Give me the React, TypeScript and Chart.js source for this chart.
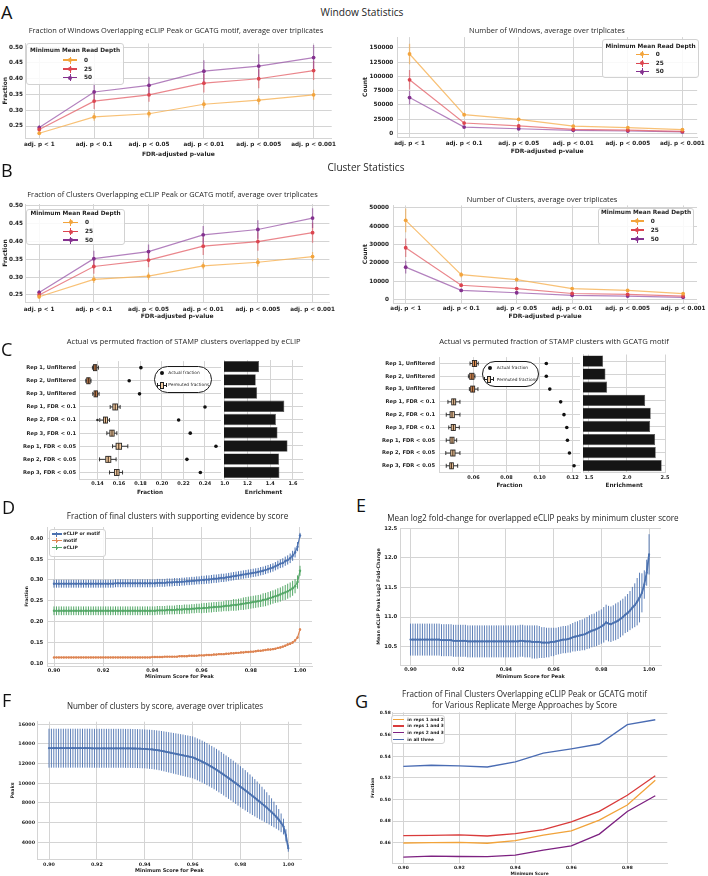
import React, { useEffect, useRef } from 'react';
import { Chart, registerables } from 'chart.js';

Chart.register(...registerables);

// ================= DATA =================
const pvalCategories = ['adj. p < 1', 'adj. p < 0.1', 'adj. p < 0.05', 'adj. p < 0.01', 'adj. p < 0.005', 'adj. p < 0.001'];
const depthLabels = ['0', '25', '50'];

// Panel A: windows
const windowFraction0 = [0.227, 0.279, 0.289, 0.319, 0.332, 0.349];
const windowFraction0Err = [0.005, 0.012, 0.012, 0.013, 0.014, 0.016];
const windowFraction25 = [0.239, 0.329, 0.349, 0.386, 0.400, 0.426];
const windowFraction25Err = [0.007, 0.025, 0.022, 0.030, 0.030, 0.030];
const windowFraction50 = [0.245, 0.358, 0.379, 0.424, 0.440, 0.467];
const windowFraction50Err = [0.008, 0.030, 0.027, 0.035, 0.038, 0.040];

const windowCount0 = [139000, 33000, 25000, 13000, 10500, 7000];
const windowCount0Err = [18000, 3000, 2500, 1500, 1200, 1000];
const windowCount25 = [94000, 18500, 13500, 7500, 6000, 4000];
const windowCount25Err = [17000, 2500, 2000, 1000, 800, 600];
const windowCount50 = [63000, 11500, 8500, 5800, 4600, 2900];
const windowCount50Err = [12000, 1500, 1200, 800, 600, 400];

// Panel B: clusters
const clusterFraction0 = [0.245, 0.294, 0.303, 0.332, 0.342, 0.358];
const clusterFraction0Err = [0.005, 0.010, 0.010, 0.010, 0.012, 0.013];
const clusterFraction25 = [0.250, 0.330, 0.348, 0.387, 0.400, 0.425];
const clusterFraction25Err = [0.006, 0.020, 0.020, 0.025, 0.026, 0.028];
const clusterFraction50 = [0.257, 0.352, 0.372, 0.419, 0.434, 0.466];
const clusterFraction50Err = [0.007, 0.022, 0.020, 0.025, 0.026, 0.028];

const clusterCount0 = [43200, 13500, 10800, 5900, 4900, 3100];
const clusterCount0Err = [6500, 1500, 1200, 800, 700, 500];
const clusterCount25 = [28200, 7700, 5900, 3200, 2700, 1800];
const clusterCount25Err = [5000, 1000, 800, 500, 400, 300];
const clusterCount50 = [17600, 4900, 3600, 2200, 1800, 1100];
const clusterCount50Err = [3500, 700, 500, 300, 300, 200];

// Panel C
const repRows = ['Rep 1, Unfiltered', 'Rep 2, Unfiltered', 'Rep 3, Unfiltered', 'Rep 1, FDR < 0.1', 'Rep 2, FDR < 0.1', 'Rep 3, FDR < 0.1', 'Rep 1, FDR < 0.05', 'Rep 2, FDR < 0.05', 'Rep 3, FDR < 0.05'];
const eclipActual = [0.1804, 0.1695, 0.1791, 0.2400, 0.2155, 0.2263, 0.2502, 0.2232, 0.2357];
const eclipPermMin = [0.1353, 0.1291, 0.1356, 0.1518, 0.1421, 0.1487, 0.1540, 0.1419, 0.1512];
const eclipPermQ1 = [0.1363, 0.1300, 0.1368, 0.1543, 0.1456, 0.1515, 0.1573, 0.1477, 0.1558];
const eclipPermMedian = [0.1378, 0.1315, 0.1383, 0.1565, 0.1474, 0.1535, 0.1598, 0.1500, 0.1580];
const eclipPermQ3 = [0.1393, 0.1331, 0.1400, 0.1586, 0.1493, 0.1555, 0.1624, 0.1524, 0.1601];
const eclipPermMax = [0.1409, 0.1340, 0.1415, 0.1611, 0.1512, 0.1580, 0.1682, 0.1573, 0.1633];
const eclipPermOutliers = [[], [], [], [], [0.1400], [], [], [], []];
const eclipEnrichment = [1.302, 1.273, 1.285, 1.524, 1.450, 1.464, 1.552, 1.478, 1.481];

const motifActual = [0.1041, 0.1041, 0.1062, 0.1128, 0.1148, 0.1165, 0.1169, 0.1181, 0.1209];
const motifPermMin = [0.0579, 0.0569, 0.0575, 0.0445, 0.0435, 0.0450, 0.0435, 0.0432, 0.0435];
const motifPermQ1 = [0.0593, 0.0577, 0.0583, 0.0468, 0.0458, 0.0465, 0.0458, 0.0462, 0.0456];
const motifPermMedian = [0.0606, 0.0590, 0.0595, 0.0480, 0.0470, 0.0478, 0.0470, 0.0475, 0.0466];
const motifPermQ3 = [0.0619, 0.0603, 0.0607, 0.0492, 0.0484, 0.0490, 0.0482, 0.0488, 0.0478];
const motifPermMax = [0.0629, 0.0609, 0.0627, 0.0518, 0.0518, 0.0514, 0.0498, 0.0518, 0.0504];
const motifPermOutliers = [[], [], [], [], [], [], [], [], []];
const motifEnrichment = [1.686, 1.717, 1.739, 2.239, 2.312, 2.304, 2.370, 2.378, 2.456];

// Panels D, E, F: score thresholds
const scoreThresholds = [
  0.900, 0.901, 0.902, 0.903, 0.904, 0.905, 0.906, 0.907, 0.908, 0.909,
  0.910, 0.911, 0.912, 0.913, 0.914, 0.915, 0.916, 0.917, 0.918, 0.919,
  0.920, 0.921, 0.922, 0.923, 0.924, 0.925, 0.926, 0.927, 0.928, 0.929,
  0.930, 0.931, 0.932, 0.933, 0.934, 0.935, 0.936, 0.937, 0.938, 0.939,
  0.940, 0.941, 0.942, 0.943, 0.944, 0.945, 0.946, 0.947, 0.948, 0.949,
  0.950, 0.951, 0.952, 0.953, 0.954, 0.955, 0.956, 0.957, 0.958, 0.959,
  0.960, 0.961, 0.962, 0.963, 0.964, 0.965, 0.966, 0.967, 0.968, 0.969,
  0.970, 0.971, 0.972, 0.973, 0.974, 0.975, 0.976, 0.977, 0.978, 0.979,
  0.980, 0.981, 0.982, 0.983, 0.984, 0.985, 0.986, 0.987, 0.988, 0.989,
  0.990, 0.991, 0.992, 0.993, 0.994, 0.995, 0.996, 0.997, 0.998, 0.999,
  1.000,
];

const evidenceEclipOrMotif = [
  0.291, 0.291, 0.291, 0.291, 0.291, 0.291, 0.291, 0.291, 0.291, 0.291,
  0.291, 0.291, 0.291, 0.291, 0.291, 0.291, 0.291, 0.291, 0.291, 0.291,
  0.291, 0.291, 0.291, 0.291, 0.291, 0.292, 0.292, 0.292, 0.292, 0.292,
  0.292, 0.292, 0.292, 0.292, 0.292, 0.292, 0.292, 0.292, 0.292, 0.292,
  0.292, 0.292, 0.293, 0.293, 0.293, 0.293, 0.294, 0.294, 0.294, 0.295,
  0.295, 0.295, 0.296, 0.296, 0.297, 0.297, 0.298, 0.298, 0.299, 0.299,
  0.300, 0.300, 0.301, 0.301, 0.302, 0.303, 0.303, 0.304, 0.305, 0.305,
  0.306, 0.307, 0.308, 0.309, 0.310, 0.311, 0.312, 0.313, 0.314, 0.315,
  0.316, 0.317, 0.318, 0.319, 0.321, 0.322, 0.324, 0.326, 0.328, 0.330,
  0.333, 0.336, 0.339, 0.341, 0.345, 0.348, 0.352, 0.358, 0.366, 0.380,
  0.407,
];
const evidenceEclipOrMotifErr = [
  0.0095, 0.0095, 0.0095, 0.0095, 0.0095, 0.0095, 0.0095, 0.0095, 0.0095, 0.0095,
  0.0095, 0.0095, 0.0095, 0.0095, 0.0095, 0.0095, 0.0095, 0.0095, 0.0095, 0.0095,
  0.0095, 0.0095, 0.0095, 0.0095, 0.0095, 0.0095, 0.0095, 0.0095, 0.0095, 0.0095,
  0.0095, 0.0095, 0.0095, 0.0095, 0.0095, 0.0095, 0.0095, 0.0095, 0.0095, 0.0095,
  0.0095, 0.0095, 0.0095, 0.0095, 0.0095, 0.0095, 0.0095, 0.0095, 0.0095, 0.0095,
  0.0095, 0.0095, 0.0095, 0.0095, 0.0095, 0.0095, 0.0095, 0.0095, 0.0095, 0.0095,
  0.010, 0.010, 0.010, 0.010, 0.010, 0.010, 0.010, 0.010, 0.010, 0.010,
  0.010, 0.010, 0.010, 0.010, 0.010, 0.010, 0.010, 0.010, 0.010, 0.010,
  0.010, 0.010, 0.010, 0.010, 0.010, 0.010, 0.010, 0.010, 0.010, 0.010,
  0.010, 0.0105, 0.0105, 0.011, 0.011, 0.011, 0.0115, 0.012, 0.012, 0.011,
  0.006,
];
const evidenceMotif = [
  0.114, 0.114, 0.114, 0.114, 0.114, 0.114, 0.114, 0.114, 0.114, 0.114,
  0.114, 0.114, 0.114, 0.114, 0.114, 0.114, 0.114, 0.114, 0.114, 0.114,
  0.114, 0.114, 0.114, 0.114, 0.114, 0.114, 0.114, 0.114, 0.114, 0.114,
  0.114, 0.114, 0.114, 0.114, 0.114, 0.114, 0.114, 0.114, 0.114, 0.114,
  0.115, 0.115, 0.115, 0.115, 0.115, 0.116, 0.116, 0.116, 0.116, 0.116,
  0.116, 0.117, 0.117, 0.117, 0.117, 0.118, 0.118, 0.118, 0.118, 0.119,
  0.119, 0.119, 0.120, 0.120, 0.120, 0.121, 0.121, 0.122, 0.122, 0.122,
  0.123, 0.123, 0.124, 0.124, 0.125, 0.125, 0.126, 0.126, 0.127, 0.127,
  0.128, 0.128, 0.129, 0.130, 0.130, 0.131, 0.132, 0.133, 0.133, 0.134,
  0.135, 0.137, 0.138, 0.140, 0.142, 0.145, 0.147, 0.150, 0.155, 0.162,
  0.181,
];
const evidenceMotifErr = [
  0.0015, 0.0015, 0.0015, 0.0015, 0.0015, 0.0015, 0.0015, 0.0015, 0.0015, 0.0015,
  0.0015, 0.0015, 0.0015, 0.0015, 0.0015, 0.0015, 0.0015, 0.0015, 0.0015, 0.0015,
  0.0015, 0.0015, 0.0015, 0.0015, 0.0015, 0.0015, 0.0015, 0.0015, 0.0015, 0.0015,
  0.0015, 0.0015, 0.0015, 0.0015, 0.0015, 0.0015, 0.0015, 0.0015, 0.0015, 0.0015,
  0.0015, 0.0015, 0.0015, 0.0015, 0.0015, 0.0015, 0.0015, 0.0015, 0.0015, 0.0015,
  0.0015, 0.0015, 0.0015, 0.0015, 0.0015, 0.0015, 0.0015, 0.0015, 0.0015, 0.0015,
  0.002, 0.002, 0.002, 0.002, 0.002, 0.002, 0.002, 0.002, 0.002, 0.002,
  0.002, 0.002, 0.002, 0.002, 0.002, 0.002, 0.002, 0.002, 0.002, 0.002,
  0.002, 0.002, 0.002, 0.002, 0.002, 0.002, 0.002, 0.002, 0.002, 0.002,
  0.002, 0.002, 0.0025, 0.0025, 0.0025, 0.003, 0.003, 0.003, 0.003, 0.003,
  0.003,
];
const evidenceEclip = [
  0.226, 0.226, 0.226, 0.226, 0.226, 0.226, 0.226, 0.226, 0.226, 0.226,
  0.226, 0.226, 0.226, 0.226, 0.226, 0.226, 0.226, 0.226, 0.226, 0.226,
  0.226, 0.226, 0.226, 0.226, 0.226, 0.226, 0.226, 0.226, 0.226, 0.226,
  0.226, 0.226, 0.226, 0.226, 0.226, 0.226, 0.226, 0.226, 0.226, 0.226,
  0.226, 0.226, 0.227, 0.227, 0.227, 0.227, 0.228, 0.228, 0.228, 0.228,
  0.229, 0.229, 0.229, 0.230, 0.230, 0.230, 0.231, 0.231, 0.232, 0.232,
  0.232, 0.233, 0.233, 0.234, 0.234, 0.235, 0.235, 0.236, 0.236, 0.237,
  0.238, 0.238, 0.239, 0.240, 0.240, 0.241, 0.242, 0.243, 0.244, 0.245,
  0.246, 0.247, 0.248, 0.249, 0.250, 0.252, 0.253, 0.255, 0.257, 0.259,
  0.261, 0.263, 0.265, 0.268, 0.270, 0.273, 0.276, 0.280, 0.285, 0.295,
  0.322,
];
const evidenceEclipErr = [
  0.0105, 0.0105, 0.0105, 0.0105, 0.0105, 0.0105, 0.0105, 0.0105, 0.0105, 0.0105,
  0.0105, 0.0105, 0.0105, 0.0105, 0.0105, 0.0105, 0.0105, 0.0105, 0.0105, 0.0105,
  0.0105, 0.0105, 0.0105, 0.0105, 0.0105, 0.0105, 0.0105, 0.0105, 0.0105, 0.0105,
  0.0105, 0.0105, 0.0105, 0.0105, 0.0105, 0.0105, 0.0105, 0.0105, 0.0105, 0.0105,
  0.0105, 0.0105, 0.0105, 0.0105, 0.0105, 0.0105, 0.0105, 0.0105, 0.0105, 0.0105,
  0.011, 0.011, 0.011, 0.011, 0.011, 0.011, 0.011, 0.011, 0.011, 0.011,
  0.012, 0.012, 0.012, 0.012, 0.012, 0.012, 0.012, 0.012, 0.012, 0.012,
  0.013, 0.013, 0.013, 0.014, 0.014, 0.014, 0.014, 0.015, 0.015, 0.015,
  0.015, 0.015, 0.015, 0.015, 0.015, 0.016, 0.016, 0.016, 0.016, 0.016,
  0.016, 0.017, 0.017, 0.017, 0.018, 0.018, 0.018, 0.018, 0.017, 0.016,
  0.012,
];

const log2fcMean = [
  10.62, 10.62, 10.62, 10.62, 10.62, 10.62, 10.62, 10.62, 10.62, 10.62,
  10.62, 10.62, 10.62, 10.61, 10.61, 10.61, 10.61, 10.61, 10.60, 10.60,
  10.60, 10.60, 10.60, 10.60, 10.59, 10.59, 10.59, 10.59, 10.59, 10.59,
  10.59, 10.59, 10.59, 10.59, 10.59, 10.59, 10.59, 10.59, 10.59, 10.59,
  10.59, 10.59, 10.59, 10.59, 10.59, 10.59, 10.60, 10.60, 10.59, 10.59,
  10.59, 10.58, 10.58, 10.58, 10.58, 10.57, 10.57, 10.57, 10.57, 10.58,
  10.58, 10.59, 10.60, 10.61, 10.62, 10.62, 10.63, 10.64, 10.66, 10.67,
  10.68, 10.69, 10.70, 10.71, 10.73, 10.75, 10.77, 10.78, 10.80, 10.82,
  10.84, 10.87, 10.91, 10.89, 10.88, 10.90, 10.92, 10.94, 10.97, 11.00,
  11.04, 11.07, 11.11, 11.16, 11.20, 11.26, 11.33, 11.41, 11.55, 11.75,
  12.06,
];
const log2fcErr = [
  0.27, 0.27, 0.27, 0.27, 0.27, 0.27, 0.27, 0.27, 0.27, 0.27,
  0.27, 0.27, 0.27, 0.27, 0.27, 0.27, 0.27, 0.27, 0.27, 0.27,
  0.27, 0.27, 0.27, 0.27, 0.27, 0.27, 0.27, 0.27, 0.27, 0.27,
  0.27, 0.27, 0.27, 0.27, 0.27, 0.27, 0.27, 0.27, 0.27, 0.27,
  0.27, 0.27, 0.27, 0.27, 0.27, 0.27, 0.27, 0.27, 0.27, 0.27,
  0.27, 0.28, 0.28, 0.28, 0.27, 0.26, 0.26, 0.25, 0.25, 0.24,
  0.24, 0.23, 0.23, 0.23, 0.23, 0.23, 0.23, 0.24, 0.24, 0.25,
  0.25, 0.26, 0.26, 0.27, 0.27, 0.28, 0.28, 0.28, 0.29, 0.29,
  0.29, 0.30, 0.30, 0.30, 0.30, 0.30, 0.31, 0.31, 0.31, 0.31,
  0.31, 0.32, 0.33, 0.35, 0.37, 0.40, 0.42, 0.33, 0.24, 0.22,
  0.34,
];

const clustersByScore = [
  13570, 13570, 13570, 13570, 13570, 13570, 13570, 13570, 13570, 13570,
  13570, 13570, 13570, 13570, 13570, 13570, 13570, 13570, 13560, 13560,
  13560, 13560, 13560, 13560, 13560, 13560, 13560, 13560, 13560, 13560,
  13560, 13560, 13550, 13550, 13550, 13540, 13540, 13530, 13520, 13510,
  13500, 13480, 13460, 13440, 13410, 13380, 13340, 13300, 13250, 13200,
  13150, 13100, 13050, 13000, 12950, 12900, 12850, 12790, 12740, 12690,
  12640, 12540, 12430, 12320, 12200, 12080, 11950, 11810, 11670, 11520,
  11370, 11210, 11050, 10880, 10710, 10540, 10370, 10190, 10010, 9830,
  9650, 9470, 9290, 9100, 8910, 8720, 8530, 8330, 8130, 7930,
  7730, 7520, 7300, 7070, 6830, 6580, 6300, 5980, 5600, 4700,
  3390,
];
const clustersByScoreErr = [
  1980, 1980, 1980, 1980, 1980, 1980, 1980, 1980, 1980, 1980,
  1980, 1980, 1980, 1980, 1980, 1980, 1980, 1980, 1980, 1980,
  1980, 1980, 1980, 1980, 1980, 1980, 1980, 1980, 1980, 1980,
  1980, 1980, 1980, 1980, 1980, 1980, 1980, 1980, 1980, 1980,
  1980, 1980, 1990, 1990, 2000, 2000, 2010, 2020, 2030, 2040,
  2050, 2060, 2070, 2080, 2090, 2100, 2110, 2110, 2120, 2120,
  2130, 2130, 2130, 2140, 2140, 2140, 2140, 2130, 2130, 2130,
  2130, 2130, 2130, 2120, 2120, 2120, 2110, 2110, 2100, 2100,
  2090, 2070, 2050, 2020, 1990, 1950, 1900, 1850, 1790, 1720,
  1650, 1570, 1490, 1400, 1300, 1200, 1080, 950, 800, 620,
  350,
];

// Panel G
const mergeScores = [0.90, 0.91, 0.92, 0.93, 0.94, 0.95, 0.96, 0.97, 0.98, 0.99];
const mergeReps12 = [0.4597, 0.4600, 0.4603, 0.4595, 0.4620, 0.4670, 0.4710, 0.4810, 0.4950, 0.5180];
const mergeReps13 = [0.4665, 0.4667, 0.4672, 0.4662, 0.4685, 0.4722, 0.4793, 0.4890, 0.5040, 0.5220];
const mergeReps23 = [0.4467, 0.4475, 0.4472, 0.4470, 0.4485, 0.4532, 0.4570, 0.4680, 0.4890, 0.5035];
const mergeAllThree = [0.5308, 0.5318, 0.5312, 0.5302, 0.5350, 0.5430, 0.5470, 0.5515, 0.5695, 0.5740];
const mergeLabels = ['in reps 1 and 2', 'in reps 1 and 3', 'in reps 2 and 3', 'in all three'];

// tick label values
const fractionTicksAB = [0.25, 0.30, 0.35, 0.40, 0.45, 0.50];
const windowCountTicks = [0, 25000, 50000, 75000, 100000, 125000, 150000];
const clusterCountTicks = [0, 10000, 20000, 30000, 40000, 50000];
const eclipFractionTicks = [0.14, 0.16, 0.18, 0.20, 0.22, 0.24];
const eclipEnrichTicks = [1.0, 1.2, 1.4, 1.6];
const motifFractionTicks = [0.06, 0.08, 0.10, 0.12];
const motifEnrichTicks = [1.5, 2.0, 2.5];
const scoreTicks = [0.90, 0.92, 0.94, 0.96, 0.98, 1.00];
const evidenceTicks = [0.10, 0.15, 0.20, 0.25, 0.30, 0.35, 0.40];
const log2fcTicks = [10.5, 11.0, 11.5, 12.0, 12.5];
const peakTicks = [4000, 6000, 8000, 10000, 12000, 14000, 16000];
const mergeScoreTicks = [0.90, 0.92, 0.94, 0.96, 0.98];
const mergeFractionTicks = [0.46, 0.48, 0.50, 0.52, 0.54, 0.56, 0.58];

// ================= STYLE =================
const GRID = '#d4d4d4';
const TICK_FAMILY = "'DejaVu Sans', 'Liberation Sans', sans-serif";
const TITLE_FAMILY = "'Open Sans', 'Noto Sans', sans-serif";
const depthLineColors = ['rgba(246,176,80,0.78)', 'rgba(226,88,96,0.72)', 'rgba(150,80,165,0.72)'];
const depthMarkColors = ['#f3a43c', '#dc4550', '#84318f'];
const depthErrColors = ['rgba(243,164,60,0.6)', 'rgba(220,69,80,0.55)', 'rgba(132,49,143,0.55)'];
const evidenceColors = ['#4c72b0', '#dd8452', '#55a868'];
const mergeColors = ['#f1a33a', '#d93b3b', '#7d2181', '#4a6cb3'];
const BLUE = '#4c72b0';

type Box = { l: number; t: number; r: number; b: number };

interface AxisSpec {
  kind?: 'linear' | 'category';
  min?: number;
  max?: number;
  ticks?: number[];
  fmt?: (v: number) => string;
  labels?: string[];
  size: number;
  pad: number;
  title?: string;
  titleSize?: number;
  showTicks?: boolean;
}

function axis(which: 'x' | 'y', sp: AxisSpec, box: Box, area: Box): any {
  const o: any = {
    type: sp.kind || 'linear',
    position: which === 'x' ? 'bottom' : 'left',
    grid: { color: GRID, lineWidth: 1, drawTicks: false, tickLength: 0, offset: false },
    border: { display: true, color: GRID, width: 1 },
    ticks: {
      display: sp.showTicks !== false,
      color: '#1e1e1e',
      padding: sp.pad,
      autoSkip: false,
      maxRotation: 0,
      minRotation: 0,
      font: { family: TICK_FAMILY, size: sp.size, weight: 'bold', lineHeight: 1.2 },
    },
    title: sp.title
      ? { display: true, text: sp.title, color: '#1e1e1e', padding: 0, font: { family: TICK_FAMILY, size: sp.titleSize || sp.size, weight: 'bold', lineHeight: 1.2 } }
      : { display: false },
    afterFit: (s: any) => {
      if (which === 'x') s.height = box.b - area.b;
      else s.width = area.l - box.l;
    },
  };
  if (sp.min !== undefined) o.min = sp.min;
  if (sp.max !== undefined) o.max = sp.max;
  if (sp.kind === 'category') {
    o.labels = sp.labels;
    o.offset = true;
  }
  if (sp.ticks) {
    const tv = sp.ticks;
    o.afterBuildTicks = (s: any) => {
      s.ticks = tv.map((v) => ({ value: v }));
    };
  }
  if (sp.fmt) {
    const f = sp.fmt;
    o.ticks.callback = (v: any) => f(Number(v));
  }
  return o;
}

function makeConfig(type: string, data: any, box: Box, area: Box, xs: AxisSpec, ys: AxisSpec, plugins: any[] = [], indexAxis: 'x' | 'y' = 'x'): any {
  return {
    type,
    data,
    options: {
      responsive: false,
      animation: false,
      devicePixelRatio: 1,
      events: [],
      indexAxis,
      layout: { autoPadding: false, padding: { left: 0, top: area.t - box.t, right: box.r - area.r, bottom: 0 } },
      plugins: { legend: { display: false }, tooltip: { enabled: false }, title: { display: false } },
      scales: { x: axis('x', xs, box, area), y: axis('y', ys, box, area) },
    },
    plugins,
  };
}

const errorBarPlugin = {
  id: 'errorBars',
  beforeDatasetsDraw(chart: any) {
    const { ctx, chartArea } = chart;
    const xs = chart.scales.x;
    const ys = chart.scales.y;
    ctx.save();
    ctx.beginPath();
    ctx.rect(chartArea.left, chartArea.top, chartArea.right - chartArea.left, chartArea.bottom - chartArea.top);
    ctx.clip();
    chart.data.datasets.forEach((ds: any) => {
      if (!ds.err) return;
      ctx.strokeStyle = ds.errColor || ds.borderColor;
      ctx.lineWidth = ds.errWidth || 1;
      ds.data.forEach((p: any, i: number) => {
        const e = ds.err[i];
        const x = xs.getPixelForValue(p.x);
        ctx.beginPath();
        ctx.moveTo(x, ys.getPixelForValue(p.y - e));
        ctx.lineTo(x, ys.getPixelForValue(p.y + e));
        ctx.stroke();
      });
    });
    ctx.restore();
  },
};

function makeBoxPlugin(id: string, st: { min: number[]; q1: number[]; med: number[]; q3: number[]; max: number[]; fliers: number[][]; fill: string[] }) {
  return {
    id,
    beforeDatasetsDraw(chart: any) {
      const { ctx } = chart;
      const xs = chart.scales.x;
      const ys = chart.scales.y;
      const px = (v: number) => xs.getPixelForValue(v);
      const seg = (x0: number, y0: number, x1: number, y1: number) => {
        ctx.beginPath();
        ctx.moveTo(x0, y0);
        ctx.lineTo(x1, y1);
        ctx.stroke();
      };
      ctx.save();
      for (let i = 0; i < st.med.length; i++) {
        const y = ys.getPixelForValue(i);
        const hb = 3;
        const hc = 2;
        ctx.strokeStyle = '#262626';
        ctx.lineWidth = 0.9;
        seg(px(st.min[i]), y, px(st.q1[i]), y);
        seg(px(st.q3[i]), y, px(st.max[i]), y);
        seg(px(st.min[i]), y - hc, px(st.min[i]), y + hc);
        seg(px(st.max[i]), y - hc, px(st.max[i]), y + hc);
        ctx.fillStyle = st.fill[i];
        const x0 = px(st.q1[i]);
        const x1 = px(st.q3[i]);
        ctx.fillRect(x0, y - hb, x1 - x0, 2 * hb);
        ctx.strokeRect(x0, y - hb, x1 - x0, 2 * hb);
        ctx.strokeStyle = '#3b2412';
        ctx.lineWidth = 1;
        seg(px(st.med[i]), y - hb, px(st.med[i]), y + hb);
        ctx.fillStyle = '#262626';
        st.fliers[i].forEach((f) => {
          ctx.beginPath();
          ctx.arc(px(f), y, 1.3, 0, Math.PI * 2);
          ctx.fill();
        });
      }
      ctx.restore();
    },
  };
}

// ================= DATASET BUILDERS =================
const pvalIndex = pvalCategories.map((_, i) => i);
const catFmt = (v: number) => pvalCategories[Math.round(v)] ?? '';
const f2 = (v: number) => v.toFixed(2);
const f1 = (v: number) => v.toFixed(1);
const fInt = (v: number) => String(Math.round(v));

function depthDatasets(vals: number[][], errs: number[][]) {
  return vals.map((v, k) => ({
    label: depthLabels[k],
    data: pvalIndex.map((x, i) => ({ x, y: v[i] })),
    err: errs[k],
    errColor: depthErrColors[k],
    errWidth: 1.3,
    borderColor: depthLineColors[k],
    backgroundColor: depthLineColors[k],
    borderWidth: 1.2,
    pointRadius: 1.9,
    pointBackgroundColor: depthMarkColors[k],
    pointBorderWidth: 0,
    tension: 0,
    fill: false,
  }));
}

function scoreDataset(label: string, xs: number[], ys: number[], err: number[] | null, color: string, errColor: string, lw: number, pr: number) {
  return {
    label,
    data: xs.map((x, i) => ({ x, y: ys[i] })),
    err,
    errColor,
    errWidth: 1,
    borderColor: color,
    backgroundColor: color,
    borderWidth: lw,
    pointRadius: pr,
    pointBackgroundColor: color,
    pointBorderWidth: 0,
    tension: 0,
    fill: false,
  };
}

interface PlotSpec { box: Box; config: any }

function buildPlots(): PlotSpec[] {
  const plots: PlotSpec[] = [];
  const add = (box: Box, config: any) => plots.push({ box, config });

  // A left
  {
    const box = { l: 2, t: 38, r: 340, b: 158 };
    const area = { l: 25, t: 43, r: 333, b: 138 };
    add(box, makeConfig('line', { datasets: depthDatasets([windowFraction0, windowFraction25, windowFraction50], [windowFraction0Err, windowFraction25Err, windowFraction50Err]) }, box, area,
      { min: -0.26, max: 5.33, ticks: pvalIndex, fmt: catFmt, size: 5.7, pad: 3.6, title: 'FDR-adjusted p-value', titleSize: 6 },
      { min: 0.212, max: 0.512, ticks: fractionTicksAB, fmt: f2, size: 5.7, pad: 2, title: 'Fraction', titleSize: 6 }, [errorBarPlugin]));
  }
  // A right
  {
    const box = { l: 362, t: 30, r: 708, b: 155 };
    const area = { l: 397, t: 36, r: 702, b: 137 };
    add(box, makeConfig('line', { datasets: depthDatasets([windowCount0, windowCount25, windowCount50], [windowCount0Err, windowCount25Err, windowCount50Err]) }, box, area,
      { min: -0.23, max: 5.27, ticks: pvalIndex, fmt: catFmt, size: 5.7, pad: 2.9, title: 'FDR-adjusted p-value', titleSize: 6 },
      { min: -5900, max: 168500, ticks: windowCountTicks, fmt: fInt, size: 5.7, pad: 3.7, title: 'Count', titleSize: 6 }, [errorBarPlugin]));
  }
  // B left
  {
    const box = { l: 2, t: 198, r: 340, b: 320 };
    const area = { l: 25, t: 204, r: 332, b: 302 };
    add(box, makeConfig('line', { datasets: depthDatasets([clusterFraction0, clusterFraction25, clusterFraction50], [clusterFraction0Err, clusterFraction25Err, clusterFraction50Err]) }, box, area,
      { min: -0.259, max: 5.308, ticks: pvalIndex, fmt: catFmt, size: 5.7, pad: 4.6, title: 'FDR-adjusted p-value', titleSize: 6 },
      { min: 0.2303, max: 0.5056, ticks: fractionTicksAB, fmt: f2, size: 5.7, pad: 2, title: 'Fraction', titleSize: 6 }, [errorBarPlugin]));
  }
  // B right
  {
    const box = { l: 362, t: 198, r: 708, b: 320 };
    const area = { l: 393, t: 204, r: 697, b: 303 };
    add(box, makeConfig('line', { datasets: depthDatasets([clusterCount0, clusterCount25, clusterCount50], [clusterCount0Err, clusterCount25Err, clusterCount50Err]) }, box, area,
      { min: -0.229, max: 5.25, ticks: pvalIndex, fmt: catFmt, size: 5.7, pad: 1.9, title: 'FDR-adjusted p-value', titleSize: 6 },
      { min: -1994, max: 51347, ticks: clusterCountTicks, fmt: fInt, size: 5.7, pad: 4, title: 'Count', titleSize: 6 }, [errorBarPlugin]));
  }
  // C left: boxes
  {
    const box = { l: 20, t: 355, r: 224, b: 496 };
    const area = { l: 79, t: 360, r: 221, b: 479 };
    const fills = repRows.map((_, i) => (i < 3 ? '#d98d58' : '#f3cda3'));
    add(box, makeConfig('scatter', {
      labels: repRows,
      datasets: [{ label: 'Actual fraction', data: repRows.map((r, i) => ({ x: eclipActual[i], y: r })), pointRadius: 1.8, pointBackgroundColor: '#111', pointBorderWidth: 0, showLine: false }],
    }, box, area,
      { min: 0.1228, max: 0.2549, ticks: eclipFractionTicks, fmt: f2, size: 5, pad: 2, title: 'Fraction', titleSize: 5.7 },
      { kind: 'category', labels: repRows, size: 5.2, pad: 3 },
      [makeBoxPlugin('eclipBoxes', { min: eclipPermMin, q1: eclipPermQ1, med: eclipPermMedian, q3: eclipPermQ3, max: eclipPermMax, fliers: eclipPermOutliers, fill: fills })]));
  }
  // C left: enrichment
  {
    const box = { l: 214, t: 355, r: 310, b: 496 };
    const area = { l: 224, t: 360, r: 303, b: 479 };
    add(box, makeConfig('bar', {
      labels: repRows,
      datasets: [{ label: 'Enrichment', data: eclipEnrichment, backgroundColor: '#151515', borderColor: '#4a4a4a', borderWidth: 0.6, barPercentage: 0.86, categoryPercentage: 1 }],
    }, box, area,
      { min: 0.994, max: 1.688, ticks: eclipEnrichTicks, fmt: f1, size: 5, pad: 2, title: 'Enrichment', titleSize: 5.8 },
      { kind: 'category', labels: repRows, size: 5, pad: 0, showTicks: false }, [], 'y'));
  }
  // C right: boxes
  {
    const box = { l: 378, t: 350, r: 583, b: 489 };
    const area = { l: 439, t: 354.5, r: 580, b: 472.2 };
    const fills = repRows.map((_, i) => (i < 3 ? '#df8f55' : '#f3cda3'));
    add(box, makeConfig('scatter', {
      labels: repRows,
      datasets: [{ label: 'Actual fraction', data: repRows.map((r, i) => ({ x: motifActual[i], y: r })), pointRadius: 1.8, pointBackgroundColor: '#111', pointBorderWidth: 0, showLine: false }],
    }, box, area,
      { min: 0.0391, max: 0.1245, ticks: motifFractionTicks, fmt: f2, size: 5, pad: 2.5, title: 'Fraction', titleSize: 5.7 },
      { kind: 'category', labels: repRows, size: 5.2, pad: 4 },
      [makeBoxPlugin('motifBoxes', { min: motifPermMin, q1: motifPermQ1, med: motifPermMedian, q3: motifPermQ3, max: motifPermMax, fliers: motifPermOutliers, fill: fills })]));
  }
  // C right: enrichment
  {
    const box = { l: 573, t: 350, r: 672, b: 489 };
    const area = { l: 583, t: 354.5, r: 666, b: 472.2 };
    add(box, makeConfig('bar', {
      labels: repRows,
      datasets: [{ label: 'Enrichment', data: motifEnrichment, backgroundColor: '#151515', borderColor: '#4a4a4a', borderWidth: 0.6, barPercentage: 0.86, categoryPercentage: 1 }],
    }, box, area,
      { min: 1.4218, max: 2.504, ticks: motifEnrichTicks, fmt: f1, size: 5, pad: 2.5, title: 'Enrichment', titleSize: 5.8 },
      { kind: 'category', labels: repRows, size: 5, pad: 0, showTicks: false }, [], 'y'));
  }
  // D
  {
    const box = { l: 24, t: 520, r: 316, b: 680 };
    const area = { l: 47, t: 527, r: 312, b: 666 };
    add(box, makeConfig('line', {
      datasets: [
        scoreDataset('eCLIP or motif', scoreThresholds, evidenceEclipOrMotif, evidenceEclipOrMotifErr, evidenceColors[0], evidenceColors[0], 1.2, 1.2),
        scoreDataset('motif', scoreThresholds, evidenceMotif, evidenceMotifErr, evidenceColors[1], evidenceColors[1], 1.2, 1.2),
        scoreDataset('eCLIP', scoreThresholds, evidenceEclip, evidenceEclipErr, evidenceColors[2], evidenceColors[2], 1.2, 1.2),
      ],
    }, box, area,
      { min: 0.89715, max: 1.00488, ticks: scoreTicks, fmt: f2, size: 5, pad: 2, title: 'Minimum Score for Peak', titleSize: 5 },
      { min: 0.0935, max: 0.4271, ticks: evidenceTicks, fmt: f2, size: 5.3, pad: 3.7, title: 'Fraction', titleSize: 4.5 }, [errorBarPlugin]));
  }
  // E
  {
    const box = { l: 376, t: 522, r: 666, b: 680 };
    const area = { l: 400, t: 528, r: 661, b: 665 };
    add(box, makeConfig('line', {
      datasets: [scoreDataset('log2FC', scoreThresholds, log2fcMean, log2fcErr, BLUE, 'rgba(76,114,176,0.9)', 1.8, 1.1)],
    }, box, area,
      { min: 0.8956, max: 1.005, ticks: scoreTicks, fmt: f2, size: 5, pad: 2, title: 'Minimum Score for Peak', titleSize: 5 },
      { min: 10.191, max: 12.505, ticks: log2fcTicks, fmt: f1, size: 5.3, pad: 2.7, title: 'Mean eCLIP Peak Log2 Fold-Change', titleSize: 4.8 }, [errorBarPlugin]));
  }
  // F
  {
    const box = { l: 10, t: 716, r: 306, b: 874 };
    const area = { l: 37.3, t: 721.7, r: 301.7, b: 859.3 };
    add(box, makeConfig('line', {
      datasets: [scoreDataset('Peaks', scoreThresholds, clustersByScore, clustersByScoreErr, BLUE, 'rgba(76,114,176,0.9)', 1.8, 1.1)],
    }, box, area,
      { min: 0.89511, max: 1.0056, ticks: scoreTicks, fmt: f2, size: 4.8, pad: 2.8, title: 'Minimum Score for Peak', titleSize: 5 },
      { min: 2271, max: 16264, ticks: peakTicks, fmt: fInt, size: 4.8, pad: 2.3, title: 'Peaks', titleSize: 4.8 }, [errorBarPlugin]));
  }
  // G
  {
    const box = { l: 370, t: 708, r: 672, b: 876 };
    const area = { l: 392, t: 712.3, r: 667.3, b: 863.3 };
    const series = [mergeReps12, mergeReps13, mergeReps23, mergeAllThree];
    add(box, makeConfig('line', {
      datasets: series.map((s, k) => scoreDataset(mergeLabels[k], mergeScores, s, null, mergeColors[k], mergeColors[k], 1.3, 0)),
    }, box, area,
      { min: 0.89596, max: 0.99429, ticks: mergeScoreTicks, fmt: f2, size: 4.4, pad: 2.1, title: 'Minimum Score', titleSize: 4.4 },
      { min: 0.4409, max: 0.5809, ticks: mergeFractionTicks, fmt: f2, size: 4.4, pad: 1.3, title: 'Fraction', titleSize: 4.4 }));
  }
  return plots;
}

// ================= TEXT HELPERS =================
let measureCtx: CanvasRenderingContext2D | null = null;
function fitFont(text: string, family: string, weight: string, width: number): number {
  if (!measureCtx) measureCtx = document.createElement('canvas').getContext('2d');
  measureCtx!.font = `${weight} 20px ${family}`;
  const w = measureCtx!.measureText(text).width;
  return (20 * width) / w;
}

function CText(props: { text: string; cx: number; cy: number; w?: number; size?: number; family?: string; weight?: string; color?: string }) {
  const family = props.family || TITLE_FAMILY;
  const weight = props.weight || 'normal';
  const fs = props.size ?? fitFont(props.text, family, weight, props.w || 100);
  return (
    <div style={{ position: 'absolute', left: props.cx - 400, width: 800, top: props.cy - fs * 0.6, height: fs * 1.2, lineHeight: `${fs * 1.2}px`, fontSize: `${fs}px`, fontFamily: family, fontWeight: weight as any, textAlign: 'center', whiteSpace: 'nowrap', color: props.color || '#262626' }}>
      {props.text}
    </div>
  );
}

function LText(props: { text: string; x: number; cy: number; size: number; family?: string; weight?: string }) {
  const fs = props.size;
  return (
    <div style={{ position: 'absolute', left: props.x, top: props.cy - fs * 0.6, height: fs * 1.2, lineHeight: `${fs * 1.2}px`, fontSize: `${fs}px`, fontFamily: props.family || TICK_FAMILY, fontWeight: (props.weight || 'bold') as any, whiteSpace: 'nowrap', color: '#1e1e1e' }}>
      {props.text}
    </div>
  );
}

function Rect(props: { x: number; y: number; w: number; h: number; bg: string; radius?: number; border?: string }) {
  return <div style={{ position: 'absolute', left: props.x, top: props.y, width: props.w, height: props.h, background: props.bg, borderRadius: props.radius, border: props.border, boxSizing: 'border-box' }} />;
}

function FrameBox(props: { box: Box; radius?: number; border?: string }) {
  const { box } = props;
  return <div style={{ position: 'absolute', left: box.l, top: box.t, width: box.r - box.l, height: box.b - box.t, border: props.border || '1px solid #d2d2d2', borderRadius: props.radius ?? 3, background: 'rgba(255,255,255,0.85)', boxSizing: 'border-box' }} />;
}

function SeriesLegend(props: { box: Box; title?: string; titleY?: number; ys: number[]; labels: string[]; colors: string[]; markL: number; markR: number; textX: number; fs: number; kind: 'pointErr' | 'line'; dotR?: number; errH?: number }) {
  const { box, ys, labels, colors, markL, markR, textX, fs, kind } = props;
  const dotR = props.dotR ?? 2;
  const errH = props.errH ?? 3.5;
  return (
    <>
      <FrameBox box={box} />
      {props.title ? <CText text={props.title} cx={(box.l + box.r) / 2} cy={props.titleY!} size={fs} family={TICK_FAMILY} weight="bold" color="#1e1e1e" /> : null}
      {ys.map((y, i) => (
        <React.Fragment key={i}>
          <Rect x={markL} y={y - 0.65} w={markR - markL} h={1.3} bg={colors[i]} />
          {kind === 'pointErr' ? (
            <>
              <Rect x={(markL + markR) / 2 - 0.5} y={y - errH} w={1} h={errH * 2} bg={colors[i]} />
              <Rect x={(markL + markR) / 2 - dotR} y={y - dotR} w={dotR * 2} h={dotR * 2} bg={colors[i]} radius={dotR} />
            </>
          ) : null}
          <LText text={labels[i]} x={textX} cy={y} size={fs} />
        </React.Fragment>
      ))}
    </>
  );
}

function PermLegend(props: { box: Box; dot: [number, number]; boxIcon: [number, number]; textX: number; fs: number }) {
  const { box, dot, boxIcon, textX, fs } = props;
  const [bx, by] = boxIcon;
  return (
    <>
      <FrameBox box={box} radius={(box.b - box.t) / 2} border="1px solid #1a1a1a" />
      <Rect x={dot[0] - 2.2} y={dot[1] - 2.2} w={4.4} h={4.4} bg="#111" radius={2.2} />
      <LText text="Actual fraction" x={textX} cy={dot[1]} size={fs} weight="normal" />
      <Rect x={bx - 5} y={by - 0.4} w={10} h={0.8} bg="#222" />
      <Rect x={bx - 5} y={by - 2} w={0.8} h={4} bg="#222" />
      <Rect x={bx + 4.2} y={by - 2} w={0.8} h={4} bg="#222" />
      <Rect x={bx - 2.2} y={by - 3.5} w={4.4} h={7} bg="#f3cda3" border="0.8px solid #222" />
      <LText text="Permuted fractions" x={textX} cy={by} size={fs} weight="normal" />
    </>
  );
}

// ================= APP =================
export default function App() {
  const plotsRef = useRef<PlotSpec[] | null>(null);
  if (!plotsRef.current) plotsRef.current = buildPlots();
  const plots = plotsRef.current;
  const canvasRefs = useRef<(HTMLCanvasElement | null)[]>([]);

  useEffect(() => {
    const charts: Chart[] = [];
    plots.forEach((p, i) => {
      const c = canvasRefs.current[i];
      if (c) charts.push(new Chart(c, p.config));
    });
    return () => charts.forEach((c) => c.destroy());
  }, []);

  const panelLetter = (t: string, x: number, cy: number) => (
    <div style={{ position: 'absolute', left: x, top: cy - 10, height: 20, lineHeight: '20px', fontSize: 18, fontFamily: TITLE_FAMILY, color: '#111' }}>{t}</div>
  );

  return (
    <div style={{ position: 'absolute', left: 0, top: 0, width: 708, height: 876, background: '#fff', overflow: 'hidden' }}>
      {plots.map((p, i) => (
        <canvas
          key={i}
          ref={(el) => { canvasRefs.current[i] = el; }}
          width={p.box.r - p.box.l}
          height={p.box.b - p.box.t}
          style={{ position: 'absolute', left: p.box.l, top: p.box.t, width: p.box.r - p.box.l, height: p.box.b - p.box.t }}
        />
      ))}

      {panelLetter('A', 1, 12)}
      {panelLetter('B', 1, 170)}
      {panelLetter('C', 1, 349)}
      {panelLetter('D', 2, 507)}
      {panelLetter('E', 356, 505)}
      {panelLetter('F', 2, 700)}
      {panelLetter('G', 355, 701)}

      <CText text="Window Statistics" cx={362} cy={11.7} w={83} />
      <CText text="Cluster Statistics" cx={366} cy={167.5} w={77} />

      <CText text="Fraction of Windows Overlapping eCLIP Peak or GCATG motif, average over triplicates" cx={176} cy={30} w={295} />
      <CText text="Number of Windows, average over triplicates" cx={547} cy={30} w={156} />
      <CText text="Fraction of Clusters Overlapping eCLIP Peak or GCATG motif, average over triplicates" cx={172.5} cy={194} w={291} />
      <CText text="Number of Clusters, average over triplicates" cx={542} cy={199} w={151} />
      <CText text="Actual vs permuted fraction of STAMP clusters overlapped by eCLIP" cx={183.7} cy={341.7} w={234} />
      <CText text="Actual vs permuted fraction of STAMP clusters with GCATG motif" cx={554} cy={341.7} w={230} />
      <CText text="Fraction of final clusters with supporting evidence by score" cx={177.5} cy={515.7} w={221.6} />
      <CText text="Mean log2 fold-change for overlapped eCLIP peaks by minimum cluster score" cx={533} cy={518.3} w={292} />
      <CText text="Number of clusters by score, average over triplicates" cx={165} cy={706} w={196.6} />
      <CText text="Fraction of Final Clusters Overlapping eCLIP Peak or GCATG motif" cx={524.5} cy={694.3} w={245} />
      <CText text="for Various Replicate Merge Approaches by Score" cx={524.5} cy={705} w={185} />

      <SeriesLegend box={{ l: 26, t: 43, r: 124, b: 85 }} title="Minimum Mean Read Depth" titleY={50} ys={[60, 69, 77.7]} labels={depthLabels} colors={depthMarkColors} markL={63} markR={77} textX={84} fs={5.8} kind="pointErr" />
      <SeriesLegend box={{ l: 602, t: 39.3, r: 699, b: 78.3 }} title="Minimum Mean Read Depth" titleY={46} ys={[54.3, 63.3, 71.7]} labels={depthLabels} colors={depthMarkColors} markL={635.7} markR={649} textX={655.7} fs={5.8} kind="pointErr" />
      <SeriesLegend box={{ l: 26, t: 209, r: 125, b: 245 }} title="Minimum Mean Read Depth" titleY={213.3} ys={[222.3, 231.7, 240]} labels={depthLabels} colors={depthMarkColors} markL={63} markR={78} textX={85} fs={5.8} kind="pointErr" />
      <SeriesLegend box={{ l: 598, t: 207.7, r: 694, b: 245 }} title="Minimum Mean Read Depth" titleY={212.3} ys={[221, 230, 239]} labels={depthLabels} colors={depthMarkColors} markL={630.7} markR={644} textX={650.7} fs={5.8} kind="pointErr" />

      <PermLegend box={{ l: 154, t: 366, r: 212, b: 393 }} dot={[161.7, 372.7]} boxIcon={[161.7, 385]} textX={168.3} fs={4.3} />
      <PermLegend box={{ l: 482, t: 361, r: 539, b: 387.3 }} dot={[490, 367.7]} boxIcon={[489, 379.3]} textX={496.7} fs={4.3} />

      <SeriesLegend box={{ l: 49.3, t: 529.3, r: 106, b: 557.3 }} ys={[534, 540.7, 547.7]} labels={['eCLIP or motif', 'motif', 'eCLIP']} colors={evidenceColors} markL={51.7} markR={61.7} textX={63.3} fs={4.6} kind="pointErr" dotR={1.2} errH={2.5} />
      <SeriesLegend box={{ l: 391, t: 715, r: 445, b: 744 }} ys={[719.3, 726, 732.7, 739.3]} labels={mergeLabels} colors={mergeColors} markL={393.3} markR={404} textX={407.3} fs={4.35} kind="line" />
    </div>
  );
}
